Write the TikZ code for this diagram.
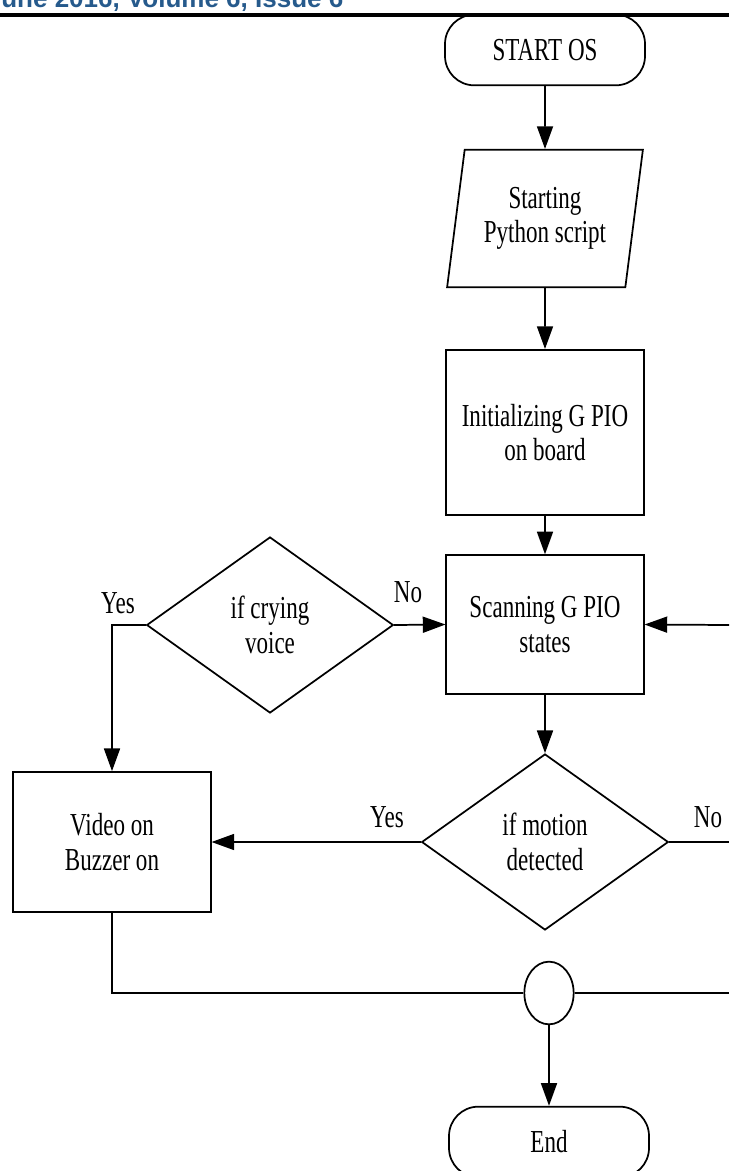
\documentclass[tikz,border=0pt]{standalone}
\usepackage{fontspec}
\setmainfont{Liberation Serif}[FakeStretch=0.72]
\newfontfamily\headfont{Liberation Sans}
\usetikzlibrary{shapes.geometric, arrows.meta}
\definecolor{headblue}{RGB}{38,90,140}

\begin{document}
\begin{tikzpicture}[x=0.75pt, y=-0.75pt, line width=1.3pt,
    font=\fontsize{24}{26}\selectfont,
    box/.style={draw, rectangle, minimum width=148pt, align=center, inner sep=0pt},
    term/.style={draw, rectangle, rounded corners=22pt, minimum width=150pt, minimum height=53pt, inner sep=0pt},
    cond/.style={draw, diamond, minimum width=185pt, minimum height=132pt, inner sep=0pt, align=center},
    lbl/.style={inner sep=0pt},
    arr/.style={-{Triangle[length=17pt,width=12pt]}}]

    \useasboundingbox (0,0) rectangle (729,1171);
    \clip (0,0) rectangle (729,1171);

    % page header, cut by the frame
    \node[anchor=base west, inner sep=0pt, text=headblue, font=\headfont\bfseries\fontsize{19.5}{20}\selectfont] (issue) at (-14,7.5) {June 2016, Volume 6, Issue 6};
    \draw[line width=3pt] (0,15) -- (729,15);

    \node[term] (start) at (545,50) {START OS};
    \node[draw, trapezium, trapezium left angle=78, trapezium right angle=102, trapezium stretches=true,
          minimum width=147pt, minimum height=103pt, inner sep=0pt, align=center] (script) at (545,218.5) {Starting\\Python script};
    \node[box, minimum height=124pt] (init) at (545,432.5) {Initializing G PIO\\on board};
    \node[box, minimum height=104pt] (scan) at (545,624.5) {Scanning G PIO\\states};
    \node[cond] (cry) at (270,625) {if crying\\voice};
    \node[cond] (motion) at (545,842) {if motion\\detected};
    \node[box, minimum height=105pt] (video) at (112,842) {Video on\\Buzzer on};
    \node[draw, ellipse, minimum width=37pt, minimum height=47pt, inner sep=0pt] (join) at (549,993) {};
    \node[term] (end) at (549,1142) {End};

    \node[lbl] (cryyes) at (118,603) {Yes};
    \node[lbl] (cryno) at (408,592) {No};
    \node[lbl] (motyes) at (387,817) {Yes};
    \node[lbl] (motno) at (708,817) {No};

    \coordinate (loopin) at (729,625);
    \coordinate (loopout) at (729,842);
    \coordinate (joinout) at (729,993);

    \draw[arr] (start) -- (script);
    \draw[arr] (script) -- (init);
    \draw[arr] (init) -- (scan);
    \draw[arr] (cry.east) -- (scan.west);
    \draw[arr] (cry.west) -| (video.north);
    \draw[arr] (loopin) -- (scan.east);
    \draw[arr] (scan) -- (motion);
    \draw[arr] (motion.west) -- (video.east);
    \draw (motion.east) -- (loopout);
    \draw (video.south) |- (join.west);
    \draw (join.east) -- (joinout);
    \draw[arr] (join) -- (end);
\end{tikzpicture}
\end{document}
